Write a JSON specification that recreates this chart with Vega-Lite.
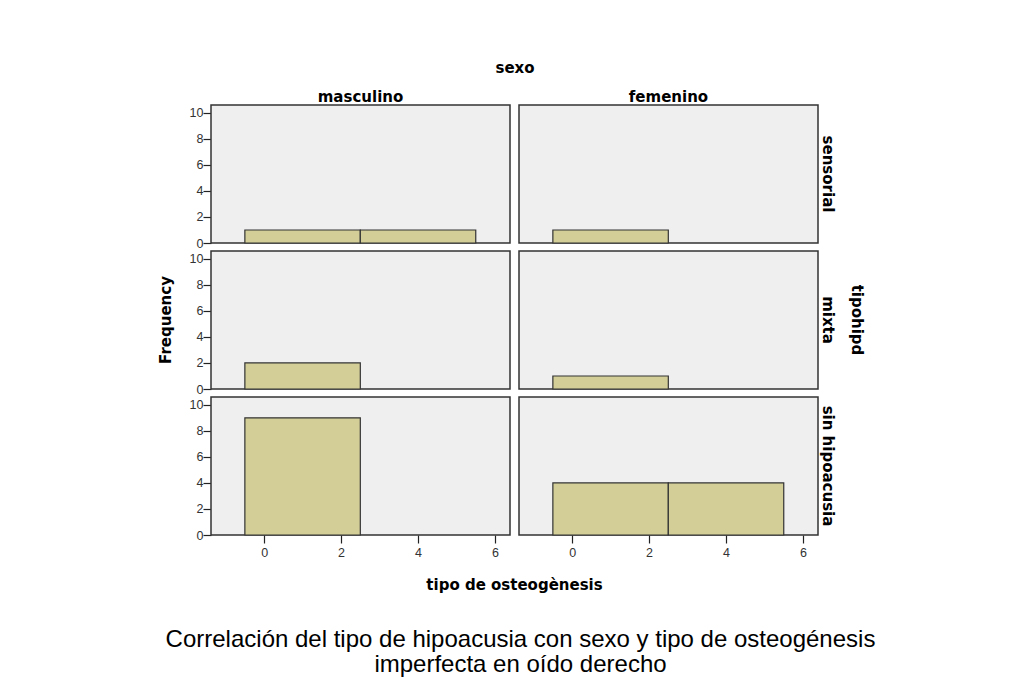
{
  "$schema": "https://vega.github.io/schema/vega-lite/v6.json",
  "padding": {"left": 158, "top": 61, "right": 5, "bottom": 5},
  "background": "white",
  "title": {
    "text": ["Correlación del tipo de hipoacusia con sexo y tipo de osteogénesis", "imperfecta en oído derecho"],
    "orient": "bottom",
    "anchor": "middle",
    "font": "Liberation Sans",
    "fontSize": 24,
    "fontWeight": "normal",
    "color": "#000000",
    "lineHeight": 25,
    "offset": 35,
    "dx": 6
  },
  "spacing": 18,
  "vconcat": [
    {
      "spacing": 15,
      "hconcat": [
        {
          "width": 16,
          "height": 430,
          "view": {"stroke": null, "fill": null},
          "data": {"values": [{"label": "Frequency"}]},
          "mark": {"type": "text", "angle": 270, "align": "center", "baseline": "middle", "font": "DejaVu Sans", "fontWeight": "bold", "fontSize": 15, "color": "#000000"},
          "encoding": {"text": {"field": "label", "type": "nominal"}}
        },
        {
          "data": {
            "values": [
              {"sexo": "masculino", "tipohipd": "sensorial", "bin_start": -0.5, "bin_end": 2.5, "frequency": 1},
              {"sexo": "masculino", "tipohipd": "sensorial", "bin_start": 2.5, "bin_end": 5.5, "frequency": 1},
              {"sexo": "femenino", "tipohipd": "sensorial", "bin_start": -0.5, "bin_end": 2.5, "frequency": 1},
              {"sexo": "masculino", "tipohipd": "mixta", "bin_start": -0.5, "bin_end": 2.5, "frequency": 2},
              {"sexo": "femenino", "tipohipd": "mixta", "bin_start": -0.5, "bin_end": 2.5, "frequency": 1},
              {"sexo": "masculino", "tipohipd": "sin hipoacusia", "bin_start": -0.5, "bin_end": 2.5, "frequency": 9},
              {"sexo": "femenino", "tipohipd": "sin hipoacusia", "bin_start": -0.5, "bin_end": 2.5, "frequency": 4},
              {"sexo": "femenino", "tipohipd": "sin hipoacusia", "bin_start": 2.5, "bin_end": 5.5, "frequency": 4}
            ]
          },
          "bounds": "flush",
          "spacing": {"column": 9, "row": 8},
          "facet": {
            "column": {
              "field": "sexo",
              "type": "nominal",
              "sort": ["masculino", "femenino"],
              "header": {
                "title": "sexo",
                "titleFont": "DejaVu Sans",
                "titleFontWeight": "bold",
                "titleFontSize": 15,
                "titleColor": "#000000",
                "titlePadding": 4,
                "labelFont": "DejaVu Sans",
                "labelFontWeight": "bold",
                "labelFontSize": 15,
                "labelColor": "#000000",
                "labelPadding": 0
              }
            },
            "row": {
              "field": "tipohipd",
              "type": "nominal",
              "sort": ["sensorial", "mixta", "sin hipoacusia"],
              "header": {
                "title": "tipohipd",
                "titleOrient": "right",
                "titleAngle": 90,
                "titleFont": "DejaVu Sans",
                "titleFontWeight": "bold",
                "titleFontSize": 15,
                "titleColor": "#000000",
                "titlePadding": 4,
                "labelOrient": "right",
                "labelAngle": 90,
                "labelFont": "DejaVu Sans",
                "labelFontWeight": "bold",
                "labelFontSize": 15,
                "labelColor": "#000000",
                "labelPadding": 2
              }
            }
          },
          "spec": {
            "width": 299,
            "height": 138,
            "view": {"fill": "#efefef", "stroke": "#333333", "strokeWidth": 1.5},
            "mark": {"type": "bar", "fill": "#d3ce98", "stroke": "#333333", "strokeWidth": 1.2},
            "encoding": {
              "x": {
                "field": "bin_start",
                "type": "quantitative",
                "scale": {"domain": [-1.38, 6.39], "nice": false, "zero": false},
                "axis": {
                  "title": null,
                  "values": [0, 2, 4, 6],
                  "grid": false,
                  "domain": false,
                  "tickSize": 8,
                  "tickWidth": 1.2,
                  "tickColor": "#222222",
                  "labelFont": "Liberation Sans",
                  "labelFontSize": 12.5,
                  "labelColor": "#333333",
                  "labelPadding": 3
                }
              },
              "x2": {"field": "bin_end"},
              "y": {
                "field": "frequency",
                "type": "quantitative",
                "scale": {"domain": [0, 10.6], "nice": false},
                "axis": {
                  "title": null,
                  "values": [0, 2, 4, 6, 8, 10],
                  "grid": false,
                  "domain": false,
                  "tickSize": 8,
                  "tickWidth": 1.2,
                  "tickColor": "#222222",
                  "labelFont": "Liberation Sans",
                  "labelFontSize": 12.5,
                  "labelColor": "#333333",
                  "labelPadding": 0
                }
              },
              "y2": {"datum": 0}
            }
          }
        }
      ]
    },
    {
      "width": 713,
      "height": 1,
      "view": {"stroke": null, "fill": null},
      "data": {"values": [{"label": "tipo de osteogènesis"}]},
      "mark": {"type": "text", "align": "center", "baseline": "middle", "font": "DejaVu Sans", "fontWeight": "bold", "fontSize": 15, "color": "#000000"},
      "encoding": {"text": {"field": "label", "type": "nominal"}}
    }
  ]
}
